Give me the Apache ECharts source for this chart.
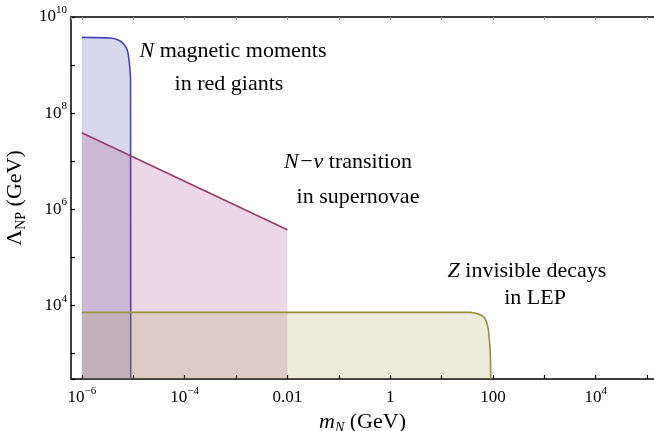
<!DOCTYPE html>
<html><head><meta charset="utf-8">
<script src="https://cdn.jsdelivr.net/npm/echarts@6/dist/echarts.min.js"></script>
<style>html,body{margin:0;padding:0;background:#fff}#c{width:654px;height:431px}</style>
</head><body><div id="c"></div>
<script>
// axis extents (GeV)
const xMin = 6.17e-7;
const xMax = 1.36e5;
const yMin = 290;
const yMax = 1e10;

// N magnetic moments in red giants
const redGiantsX = [1e-6, 3.56e-6, 4.86e-6, 6.08e-6, 7.28e-6, 7.96e-6, 8.51e-6, 8.89e-6, 8.95e-6];
const redGiantsY = [3.76e9, 3.66e9, 3.41e9, 2.96e9, 2.33e9, 1.75e9, 9.87e8, 4.82e8, 290];
// N - nu transition in supernovae
const supernovaX = [1e-6, 1e-2];
const supernovaY = [3.9e7, 3.7e5];
// Z invisible decays in LEP
const lepX = [1e-6, 35.9, 51, 64, 73, 80, 84, 88, 90.8];
const lepY = [7060, 7060, 6580, 5840, 4820, 3450, 2240, 1200, 290];

const FONT = 'Liberation Serif';
const AF = 22; // annotation font size

// x is plotted on a value axis in log10(m_N)
function pairs(xs, ys){ return xs.map((v,i)=>[Math.log10(v), ys[i]]); }
function expLabel(e, map){
  if (Math.abs(e - Math.round(e)) > 1e-6) return '';
  e = Math.round(e);
  if (e % 2 !== 0) return '';
  if (map && map[e] !== undefined) return '{b|' + map[e] + '}';
  return '{b|10}{s|' + (e<0 ? '\u2212' + (-e) : e) + '}';
}
const tickRich = {
  b: {fontFamily: FONT, fontSize: 17, color: '#000', lineHeight: 24},
  s: {fontFamily: FONT, fontSize: 11, color: '#000', lineHeight: 13, verticalAlign: 'top'}
};
const axisLine = {show: true, onZero: false, lineStyle: {color: '#000', width: 1.5}};
const xLo = Math.log10(xMin), xHi = Math.log10(xMax);
function note(x, y, text){
  return {type: 'text', x: x, y: y, style: {text: text, align: 'center', verticalAlign: 'middle',
    fontFamily: FONT, fontSize: AF, fill: '#000',
    rich: {i: {fontFamily: FONT, fontSize: AF, fontStyle: 'italic', fill: '#000'}}}};
}

const chart = echarts.init(document.getElementById('c'), null, {renderer: 'canvas'});
chart.setOption({
  animation: false,
  backgroundColor: '#fff',
  grid: {left: 71, right: 0, top: 17, bottom: 52, containLabel: false, outerBoundsMode: 'none'},
  xAxis: [{
    type: 'value', min: xLo, max: xHi, splitNumber: 11,
    axisLine: axisLine,
    axisTick: {show: true, inside: true, length: 4, lineStyle: {color: '#000', width: 1.2}},
    minorTick: {show: false},
    splitLine: {show: false},
    axisLabel: {margin: 7, showMinLabel: false, showMaxLabel: false,
      formatter: v => expLabel(v, {'-2': '0.01', '0': '1', '2': '100'}), rich: tickRich},
    name: '{i|m}{sub|N}{g| (GeV)}', nameLocation: 'middle', nameGap: 30,
    nameTextStyle: {rich: {
      i: {fontFamily: FONT, fontSize: 22, fontStyle: 'italic', color: '#000', lineHeight: 26, verticalAlign: 'middle'},
      sub: {fontFamily: FONT, fontSize: 14, fontStyle: 'italic', color: '#000', lineHeight: 15, verticalAlign: 'bottom'},
      g: {fontFamily: FONT, fontSize: 22, color: '#000', lineHeight: 26, verticalAlign: 'middle'}
    }}
  }, {
    type: 'value', min: xLo, max: xHi, splitNumber: 11, position: 'top',
    axisLine: axisLine,
    axisTick: {show: true, inside: true, length: 3, lineStyle: {color: '#999', width: 1}},
    minorTick: {show: false},
    splitLine: {show: false},
    axisLabel: {show: false}
  }],
  yAxis: [{
    type: 'log', logBase: 10, min: yMin, max: yMax, splitNumber: 8,
    axisLine: axisLine,
    axisTick: {show: true, inside: true, length: 4, lineStyle: {color: '#000', width: 1.2}},
    minorTick: {show: false},
    splitLine: {show: false},
    axisLabel: {margin: 4, formatter: v => expLabel(Math.log10(v)), rich: tickRich},
    name: '{g|\u039B}{sub|NP}{g| (GeV)}', nameLocation: 'middle', nameGap: 36, nameRotate: 90,
    nameTextStyle: {rich: {
      sub: {fontFamily: FONT, fontSize: 14, color: '#000', lineHeight: 15, verticalAlign: 'bottom'},
      g: {fontFamily: FONT, fontSize: 22, color: '#000', lineHeight: 26, verticalAlign: 'middle'}
    }}
  }],
  series: [{
    type: 'line', name: 'red giants', data: pairs(redGiantsX, redGiantsY),
    symbol: 'none', smooth: 0.2, z: 2,
    lineStyle: {color: 'rgb(70,70,185)', width: 1.6},
    areaStyle: {origin: 'start', color: 'rgb(61,61,160)', opacity: 0.2}
  }, {
    type: 'line', name: 'supernovae', data: pairs(supernovaX, supernovaY),
    symbol: 'none', z: 3,
    lineStyle: {color: 'rgb(150,62,108)', width: 1.6},
    areaStyle: {origin: 'start', color: 'rgb(153,61,120)', opacity: 0.2}
  }, {
    type: 'line', name: 'LEP', data: pairs(lepX, lepY),
    symbol: 'none', smooth: 0.2, z: 4,
    lineStyle: {color: 'rgb(150,145,60)', width: 1.6},
    areaStyle: {origin: 'start', color: 'rgb(153,150,61)', opacity: 0.18}
  }],
  graphic: [
    note(233, 51, '{i|N} magnetic moments'),
    note(229, 84, 'in red giants'),
    note(348, 162, '{i|N\u2212\u03BD} transition'),
    note(358, 197, 'in supernovae'),
    note(527, 271, '{i|Z} invisible decays'),
    note(535, 298, 'in LEP')
  ]
});
</script></body></html>
